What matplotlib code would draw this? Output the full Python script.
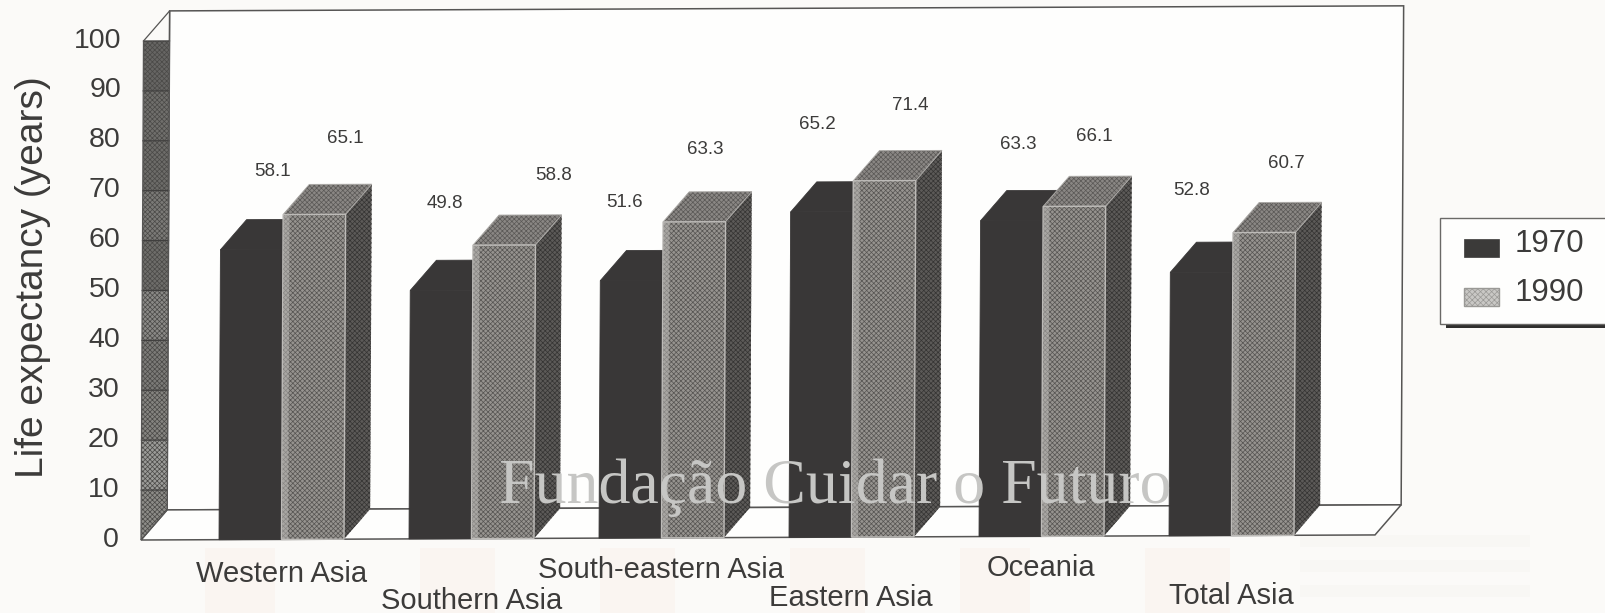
import matplotlib
matplotlib.use("Agg")
import matplotlib.pyplot as plt
from matplotlib.legend_handler import HandlerPatch
from matplotlib.patches import Polygon, Rectangle, Patch
from matplotlib.transforms import Affine2D

plt.rcParams["font.family"] = ["Liberation Sans", "DejaVu Sans"]
plt.rcParams["hatch.linewidth"] = 0.5

# Data
regions = ["Western Asia", "Southern Asia", "South-eastern Asia",
           "Eastern Asia", "Oceania", "Total Asia"]
life_1970 = [58.1, 49.8, 51.6, 65.2, 63.3, 52.8]
life_1990 = [65.1, 58.8, 63.3, 71.4, 66.1, 60.7]
years = ["1970", "1990"]
y_ticks = list(range(0, 101, 10))
y_title = "Life expectancy (years)"
credit = "Fundação Cuidar o Futuro"

# Layout
W, H = 1605, 613
PAPER = "#fbfaf8"
INK = "#3c3b3a"
LINE = "#565554"
DARK = "#393737"
X0, X1, Y0, Y1 = 141, 1375, 540, 41   # front plane in pixels (top-down y)
PX_PER_GROUP = 190.0
PX_PER_YEAR = (Y0 - Y1) / 100.0
BAR_W = 62.5 / PX_PER_GROUP
DEPTH_X = 26 / PX_PER_GROUP
DEPTH_Y = 30 / PX_PER_YEAR
label_levels = [-6.3, -11.8, -5.8, -11.6, -5.8, -11.6]
# Value label offsets from the top centre of each bar, in pixels
offset_1970 = [(20, 78), (3, 87), (-7, 78), (-5, 87), (6, 76), (-10, 82)]
offset_1990 = [(31, 76), (49, 69), (11, 72), (25, 75), (20, 70), (22, 69)]

fig = plt.figure(figsize=(W / 100, H / 100), dpi=100, facecolor=PAPER)


def px_rect(x, y, w, h, **kw):
    """Figure-level rectangle given in top-down pixel coordinates."""
    r = Rectangle((x / W, 1 - (y + h) / H), w / W, h / H,
                  transform=fig.transFigure, **kw)
    fig.add_artist(r)
    return r


# Faint print-through from the reverse of the page
for gx, gw in [(205, 70), (420, 75), (600, 75), (790, 75), (960, 70), (1145, 85)]:
    px_rect(gx, 548, gw, 65, fc="#faf5f1", ec="none", zorder=0)
for gy in [535, 560, 585]:
    px_rect(1300, gy, 230, 12, fc="#f8f7f4", ec="none", zorder=0)

ax = fig.add_axes([X0 / W, 1 - Y0 / H, (X1 - X0) / W, (Y0 - Y1) / H])
ax.set_xlim((X0 - 281.5) / PX_PER_GROUP, (X1 - 281.5) / PX_PER_GROUP)
ax.set_ylim(0, 100)
ax.axis("off")
ax.patch.set_visible(False)
xmin, xmax = ax.get_xlim()

# The printed chart sits slightly skewed on the page
fig.canvas.draw()
px0, py0 = X0, H - Y0
SKEW_X, SKEW_Y = 0.005, 0.0041
skew = Affine2D(matrix=[[1, SKEW_X, -SKEW_X * py0],
                        [SKEW_Y, 1, -SKEW_Y * px0],
                        [0, 0, 1]])
tr = ax.transData + skew


def textured(verts, fc, hatch_color, hatch, z, outline=None, lw=0.8):
    base = Polygon(verts, closed=True, fc=fc, ec=hatch_color, lw=0, hatch=hatch,
                   transform=tr, zorder=z, clip_on=False)
    ax.add_patch(base)
    if outline:
        ax.add_patch(Polygon(verts, closed=True, fc="none", ec=outline, lw=lw,
                             transform=tr, zorder=z + 0.01, clip_on=False))
    return base


def quad(x, y, w, h):
    return [(x, y), (x + w, y), (x + w, y + h), (x, y + h)]


# Back wall and floor
ax.add_patch(Polygon(quad(xmin + DEPTH_X, DEPTH_Y, xmax - xmin, 100), closed=True,
                     fc="#fefefd", ec=LINE, lw=1.1, transform=tr, zorder=1, clip_on=False))
ax.add_patch(Polygon([(xmin, 0), (xmax, 0), (xmax + DEPTH_X, DEPTH_Y), (xmin + DEPTH_X, DEPTH_Y)],
                     closed=True, fc="#fefefd", ec=LINE, lw=1.1, transform=tr, zorder=1.1,
                     clip_on=False))

# Side wall, shaded band by band with a rule at every tick
wall_verts = [(xmin, 0), (xmin + DEPTH_X, DEPTH_Y), (xmin + DEPTH_X, 100 + DEPTH_Y), (xmin, 100)]
wall_clip = Polygon(wall_verts, closed=True, transform=tr)
wall_shades = ["#8d8c88", "#9b9b98", "#858480", "#7c7b78", "#8a8986", "#6e6d6a",
               "#7b7a77", "#6d6c69", "#706f6c", "#666563", "#5f5e5c"]
for i, shade in enumerate(wall_shades):
    band = Rectangle((xmin, i * 10), DEPTH_X, 10, fc=shade, ec="#4a4947", lw=0,
                     hatch="xxxxxxx", transform=tr, zorder=2)
    ax.add_patch(band)
    band.set_clip_path(wall_clip)
for tick in y_ticks[1:]:
    ax.plot([xmin, xmin + DEPTH_X], [tick, tick], color="#403f3e", lw=0.9,
            transform=tr, zorder=2.5, clip_on=False)
ax.add_patch(Polygon(wall_verts, closed=True, fc="none", ec=LINE, lw=0.9,
                     transform=tr, zorder=2.6, clip_on=False))

# Bars
for i, (v70, v90) in enumerate(zip(life_1970, life_1990)):
    x70 = i - BAR_W
    ax.bar(x70, v70, BAR_W, align="edge", color=DARK, edgecolor=DARK, linewidth=0.6,
           transform=tr, zorder=3, clip_on=False)
    ax.add_patch(Polygon([(x70, v70), (x70 + BAR_W, v70),
                          (x70 + BAR_W + DEPTH_X, v70 + DEPTH_Y), (x70 + DEPTH_X, v70 + DEPTH_Y)],
                         closed=True, fc=DARK, ec=DARK, lw=0.6, transform=tr, zorder=3,
                         clip_on=False))

    xr = i + BAR_W
    textured([(xr, 0), (xr + DEPTH_X, DEPTH_Y), (xr + DEPTH_X, v90 + DEPTH_Y), (xr, v90)],
             "#5c5a58", "#353433", "xxxxxxx", 4)
    textured([(i, v90), (xr, v90), (xr + DEPTH_X, v90 + DEPTH_Y), (i + DEPTH_X, v90 + DEPTH_Y)],
             "#8a8784", "#5a5856", "xxxxxxx", 4.1, outline="#aaa8a5", lw=0.7)
    textured(quad(i, 0, BAR_W, v90), "#96938f", "#565452", "xxxxxxx", 4.2)
    ax.bar(i, v90, BAR_W, align="edge", color="none", edgecolor="#bdbbb8", linewidth=1.0,
           transform=tr, zorder=4.3, clip_on=False)
    ax.add_patch(Rectangle((i + 0.004, 0), 0.03, v90, fc="#bdbbb8", ec="none", alpha=0.5,
                           transform=tr, zorder=4.25, clip_on=False))

# Value labels
for i, (v70, v90) in enumerate(zip(life_1970, life_1990)):
    for value, left, off in ((v70, i - BAR_W, offset_1970[i]), (v90, float(i), offset_1990[i])):
        ax.text(left + BAR_W / 2 + off[0] / PX_PER_GROUP, value + off[1] / PX_PER_YEAR,
                f"{value:.1f}", transform=tr, ha="center", va="center",
                fontsize=13.5, color=INK, zorder=6)

# Value axis labels
for tick in y_ticks:
    ax.text(xmin - 22 / PX_PER_GROUP, tick + 0.1, str(tick), transform=tr, ha="right",
            va="center", fontsize=20.5, color=INK, zorder=6)

# Region labels on two staggered rows
for i, (name, level) in enumerate(zip(regions, label_levels)):
    ax.text(i, level, name, transform=tr, ha="center", va="center_baseline",
            fontsize=21, color=INK, zorder=6)

fig.text(33 / W, 1 - 277 / H, y_title, rotation=90, ha="center", va="center",
         fontsize=28, color=INK)


def lowered_swatch(legend, orig_handle, xdescent, ydescent, width, height, fontsize):
    return Rectangle((-xdescent, -ydescent - 5), width, height)


# Legend box with its drop shadow, running off the right edge
px_rect(1446, 325, 170, 2.5, fc="#2f2e2d", ec="none", zorder=5)
px_rect(1440, 218, 175, 106, fc="#fefefd", ec="#6a6967", lw=1.0, zorder=5.1)
handles = [Patch(fc="#3b3a39", ec="#3b3a39", lw=0.5, label=years[0]),
           Patch(fc="#c9c8c5", ec="#9a9996", lw=1.0, hatch="xxxxxx", label=years[1])]
leg = fig.legend(handles=handles, loc="upper left",
                 bbox_to_anchor=(1464 / W, 1 - 229 / H), bbox_transform=fig.transFigure,
                 frameon=False, fontsize=22.5, borderpad=0, borderaxespad=0,
                 handlelength=1.12, handleheight=0.5, handletextpad=0.5,
                 labelspacing=0.62, labelcolor=INK,
                 handler_map={Patch: HandlerPatch(patch_func=lowered_swatch)})
leg.set_zorder(6)

# Publisher credit across the lower part of the chart
fig.text(835 / W, 1 - 488 / H, credit, ha="center", va="center", color="#c6c6c4",
         fontsize=46, family=["Liberation Serif"], zorder=20)

fig.savefig("out.png", dpi=100, facecolor=PAPER)
